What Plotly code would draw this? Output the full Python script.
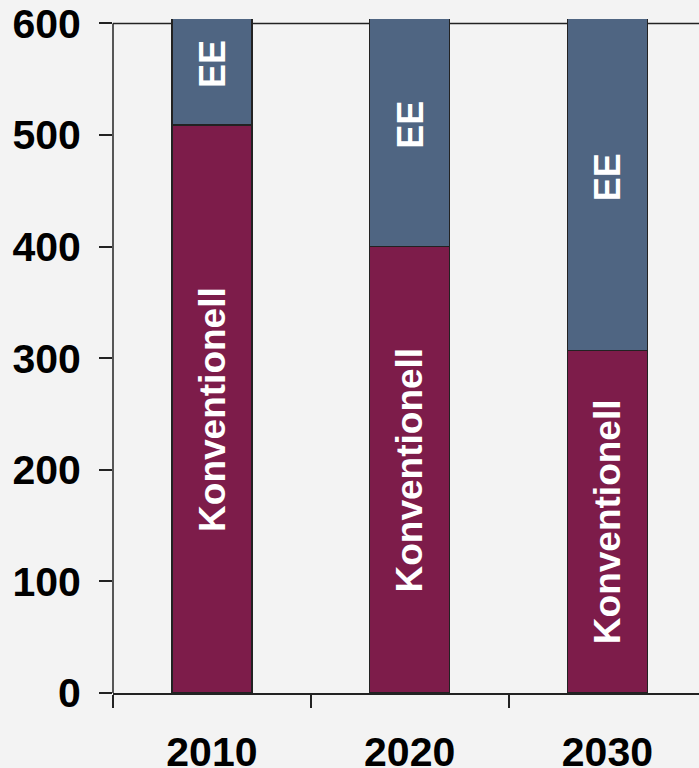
import plotly.graph_objects as go

years = ["2010", "2020", "2030"]
konventionell = [509, 400, 307]
ee = [109, 218, 311]
y_ticks = [0, 100, 200, 300, 400, 500, 600]

label_k = "Konventionell"
label_ee = "EE"

c_k = "#7d1c4a"
c_ee = "#4f6582"
bg = "#f3f3f3"
line_c = "#222222"
font_family = "Liberation Sans, Arial, sans-serif"

fig = go.Figure()
fig.add_trace(go.Bar(x=years, y=konventionell, name=label_k, marker=dict(color=c_k, line=dict(color=line_c, width=1.5)), width=0.405))
fig.add_trace(go.Bar(x=years, y=ee, name=label_ee, marker=dict(color=c_ee, line=dict(color=line_c, width=1.5)), width=0.405))

for i, yr in enumerate(years):
    fig.add_annotation(x=i, y=konventionell[i] / 2, text="<b>" + label_k + "</b>", textangle=-90, showarrow=False,
                       font=dict(family=font_family, size=37, color="white"))
    fig.add_annotation(x=i, y=konventionell[i] + ee[i] / 2, text="<b>" + label_ee + "</b>", textangle=-90, showarrow=False,
                       font=dict(family=font_family, size=36, color="white"))

# top reference line at 600 and y-axis line up to 600
fig.add_shape(type="line", xref="paper", x0=0, x1=1, yref="y", y0=600, y1=600,
              line=dict(color=line_c, width=1.5), layer="below")
fig.add_shape(type="line", xref="paper", x0=0, x1=0, yref="y", y0=0, y1=600,
              line=dict(color=line_c, width=1.5), layer="below")

fig.update_layout(
    width=699, height=768,
    margin=dict(l=113, r=0, t=19, b=75),
    paper_bgcolor=bg, plot_bgcolor=bg,
    barmode="stack", showlegend=False,
    font=dict(family=font_family, color="black"),
)
fig.update_xaxes(
    type="category", range=[-0.5, 2.463], automargin=False,
    showline=True, linecolor=line_c, linewidth=1.5,
    ticks="outside", tickson="boundaries", ticklen=13, tickcolor=line_c, tickwidth=1.5,
    tickfont=dict(family=font_family, size=41, color="black", weight="bold"),
    ticklabelstandoff=22, showgrid=False, zeroline=False,
)
fig.update_yaxes(
    range=[0, 604], tickvals=y_ticks, ticktext=[str(v) for v in y_ticks], automargin=False,
    showline=False, ticks="outside", ticklen=13, tickcolor=line_c, tickwidth=1.5,
    tickfont=dict(family=font_family, size=41, color="black", weight="bold"),
    ticklabelstandoff=10, showgrid=False, zeroline=False,
)

fig.write_html("out.html")
